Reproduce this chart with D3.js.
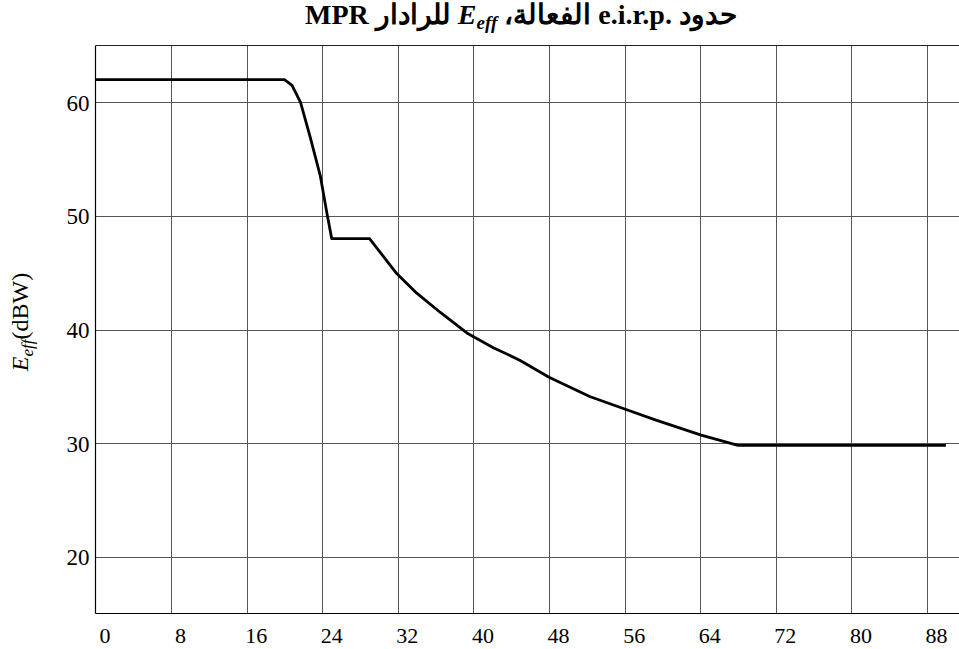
<!DOCTYPE html>
<html>
<head>
<meta charset="utf-8">
<script src="https://cdn.jsdelivr.net/npm/d3@7"></script>
<style>
  html, body { margin: 0; padding: 0; background: #fff; }
  svg { display: block; }
</style>
</head>
<body>
<svg id="chart" width="959" height="649"></svg>
<script>
// ---- data ----
const xValues = [0, 20, 20.8, 21.7, 22.7, 23.8, 24.5, 25, 29, 31.9, 34, 36.5, 39.3, 42.1, 44.9, 48, 52.3, 56, 59.4, 64.1, 68, 90];
const yValues = [62, 62, 61.5, 60, 57, 53.5, 50.2, 48, 48, 44.9, 43.2, 41.5, 39.7, 38.4, 37.3, 35.8, 34.1, 33, 32, 30.7, 29.8, 29.8];
const xTicks = [0, 8, 16, 24, 32, 40, 48, 56, 64, 72, 80, 88];
const yTicks = [20, 30, 40, 50, 60];
const titleParts = ["حدود .e.i.r.p الفعالة، ", "E", "eff", " للرادار MPR"];

const svg = d3.select("#chart");
const mLeft = 95.5, mTop = 45.5, mBottom = 613.5, mRight = 960;

const x = d3.scaleLinear().domain([0, 88]).range([mLeft, 927]);
const y = d3.scaleLinear().domain([15, 65]).range([mBottom, mTop]);

const font = "'Liberation Serif', 'Times New Roman', serif";

// gridlines
const grid = svg.append("g");
grid.selectAll("line.v").data(xTicks.slice(1)).enter().append("line")
  .attr("x1", d => Math.round(x(d)) + 0.5).attr("x2", d => Math.round(x(d)) + 0.5)
  .attr("y1", mTop).attr("y2", mBottom)
  .attr("stroke", "#555").attr("stroke-width", 1);
grid.selectAll("line.h").data(yTicks).enter().append("line")
  .attr("y1", d => Math.round(y(d)) + 0.5).attr("y2", d => Math.round(y(d)) + 0.5)
  .attr("x1", mLeft).attr("x2", mRight)
  .attr("stroke", "#555").attr("stroke-width", 1);

// frame: top, left, bottom
svg.append("line").attr("x1", mLeft).attr("x2", mRight).attr("y1", mTop).attr("y2", mTop)
  .attr("stroke", "#222").attr("stroke-width", 1.2);
svg.append("line").attr("x1", mLeft).attr("x2", mLeft).attr("y1", mTop).attr("y2", mBottom)
  .attr("stroke", "#000").attr("stroke-width", 1.2);
svg.append("line").attr("x1", mLeft).attr("x2", mRight).attr("y1", mBottom).attr("y2", mBottom)
  .attr("stroke", "#000").attr("stroke-width", 1.2);

// axes labels via d3 axis
const xAxis = d3.axisBottom(x).tickValues(xTicks).tickSize(0).tickPadding(0);
const gx = svg.append("g").attr("transform", `translate(0,${mBottom})`).call(xAxis);
gx.select(".domain").remove();
gx.selectAll("text")
  .attr("font-family", font).attr("font-size", 22).attr("fill", "#000")
  .attr("dx", 9).attr("dy", 0).attr("y", 29);

const yAxis = d3.axisLeft(y).tickValues(yTicks).tickSize(6).tickPadding(0);
const gy = svg.append("g").attr("transform", `translate(${mLeft},0)`).call(yAxis);
gy.select(".domain").remove();
gy.selectAll("line").remove();
gy.selectAll("text")
  .attr("font-family", font).attr("font-size", 23).attr("fill", "#000")
  .attr("x", -6).attr("dy", "0.35em");

// data line
const line = d3.line().x((d, i) => x(xValues[i])).y(d => y(d));
svg.append("path").datum(yValues)
  .attr("d", line)
  .attr("fill", "none").attr("stroke", "#000").attr("stroke-width", 2.8)
  .attr("stroke-linejoin", "round");

// y axis title
const yt = svg.append("text")
  .attr("transform", "translate(28,322) rotate(-90)")
  .attr("text-anchor", "middle")
  .attr("font-family", font).attr("font-size", 24).attr("fill", "#000");
yt.append("tspan").attr("font-style", "italic").text("E");
yt.append("tspan").attr("font-style", "italic").attr("font-size", 17).attr("dy", 5).text("eff");
yt.append("tspan").attr("dy", -5).text("(dBW)");

// title
const t = svg.append("text")
  .attr("x", 521).attr("y", 24)
  .attr("direction", "rtl")
  .attr("text-anchor", "middle")
  .attr("font-family", font).attr("font-size", 28).attr("font-weight", "bold").attr("fill", "#000");
t.append("tspan").text(titleParts[0]);
t.append("tspan").attr("font-style", "italic").text(titleParts[1]);
t.append("tspan").attr("font-style", "italic").attr("font-size", 19).attr("dy", 5).text(titleParts[2]);
t.append("tspan").attr("dy", -5).text(titleParts[3]);
</script>
</body>
</html>
